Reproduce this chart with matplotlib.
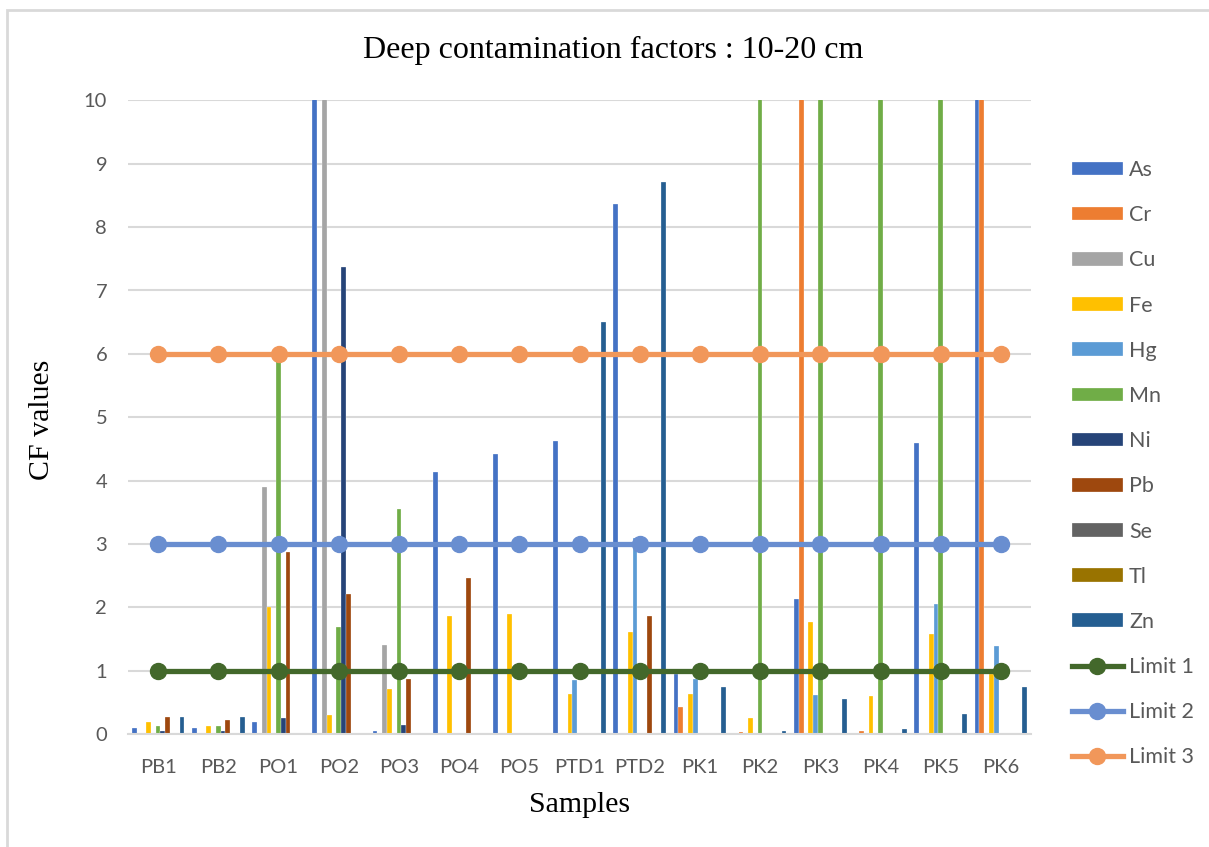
import numpy as np
import matplotlib
matplotlib.use("Agg")
import matplotlib.pyplot as plt
from matplotlib.patches import Rectangle

samples = ["PB1", "PB2", "PO1", "PO2", "PO3", "PO4", "PO5", "PTD1", "PTD2",
           "PK1", "PK2", "PK3", "PK4", "PK5", "PK6"]

# CF values (bars above 10 are cut by the axis)
As = [0.10, 0.10, 0.19, 12, 0.05, 4.13, 4.42, 4.63, 8.37, 0.95, 0, 2.13, 0, 4.59, 12]
Cr = [0, 0, 0, 0, 0, 0, 0, 0, 0, 0.43, 0.03, 12, 0.05, 0, 12]
Cu = [0.02, 0.02, 3.90, 12, 1.41, 0, 0, 0, 0, 0, 0, 0, 0, 0, 0]
Fe = [0.19, 0.13, 2.00, 0.30, 0.71, 1.87, 1.89, 0.64, 1.62, 0.64, 0.25, 1.77, 0.61, 1.58, 0.95]
Hg = [0, 0, 0, 0, 0, 0, 0, 0.86, 3.09, 0.88, 0.02, 0.62, 0, 2.05, 1.40]
Mn = [0.13, 0.13, 6.00, 1.70, 3.56, 0, 0, 0.02, 0, 0, 12, 12, 12, 12, 0]
Ni = [0.05, 0.05, 0.25, 7.37, 0.14, 0, 0, 0, 0, 0, 0, 0, 0, 0, 0]
Pb = [0.27, 0.23, 2.87, 2.21, 0.87, 2.46, 0, 0, 1.87, 0, 0, 0, 0, 0, 0]
Se = [0] * 15
Tl = [0] * 15
Zn = [0.27, 0.27, 0, 0, 0, 0, 0, 6.51, 8.71, 0.74, 0.05, 0.55, 0.08, 0.32, 0.75]

limit1 = [1] * 15
limit2 = [3] * 15
limit3 = [6] * 15

elements = ["As", "Cr", "Cu", "Fe", "Hg", "Mn", "Ni", "Pb", "Se", "Tl", "Zn"]
series = [As, Cr, Cu, Fe, Hg, Mn, Ni, Pb, Se, Tl, Zn]
colors = ["#4472C4", "#ED7D31", "#A5A5A5", "#FFC000", "#5B9BD5", "#70AD47",
          "#264478", "#9E480E", "#636363", "#997300", "#255E91"]

sans = ["Lato", "DejaVu Sans"]
serif = ["Liberation Serif", "DejaVu Serif"]
tick_col = "#595959"
grid_col = "#D9D9D9"

fig = plt.figure(figsize=(12.09, 8.47), dpi=100)
ax = fig.add_axes([128 / 1209, 1 - 734.3 / 847, (1031 - 128) / 1209, (734.3 - 100.3) / 847])

x = np.arange(len(samples))
slot = 0.0794
handles = []
for k, (name, vals, c) in enumerate(zip(elements, series, colors)):
    b = ax.bar(x + (k - 5) * slot, vals, width=slot, color=c, edgecolor="white",
               linewidth=0.2, label=name, zorder=2)
    handles.append(b)

for vals, c, name in [(limit1, "#43682B", "Limit 1"), (limit2, "#698ED0", "Limit 2"),
                      (limit3, "#F1975A", "Limit 3")]:
    ln, = ax.plot(x, vals, color=c, lw=3.8, marker="o", ms=11.5, label=name, zorder=4)
    handles.append(ln)

ax.set_xlim(-0.5, len(samples) - 0.5)
ax.set_ylim(0, 10)
ax.set_yticks(range(0, 11))
ax.set_xticks(x)
ax.set_xticklabels(samples)
ax.yaxis.grid(True, color=grid_col, lw=1.5, zorder=0)
ax.set_axisbelow(True)
for s in ["top", "right", "left"]:
    ax.spines[s].set_visible(False)
ax.spines["bottom"].set_color(grid_col)
ax.spines["bottom"].set_linewidth(1.5)
ax.tick_params(length=0, labelsize=14.5, labelcolor=tick_col)
ax.tick_params(axis="y", pad=15)
ax.tick_params(axis="x", pad=18)
for t in ax.get_xticklabels() + ax.get_yticklabels():
    t.set_family(sans)

fig.text(0.507, 1 - 50 / 847, "Deep contamination factors : 10-20 cm", ha="center",
         va="center", fontsize=23, family=serif)
fig.text(42 / 1209, 1 - 420 / 847, "CF values", rotation=90, ha="center", va="center",
         fontsize=21.5, family=serif)
fig.text(580 / 1209, 1 - 805 / 847, "Samples", ha="center", va="center",
         fontsize=21.5, family=serif)

leg = fig.legend(handles=handles, loc="upper left",
                 bbox_to_anchor=(1072 / 1209, 1 - 160 / 847),
                 frameon=False, borderpad=0, borderaxespad=0, handlelength=2.35,
                 handleheight=0.6, handletextpad=0.3, labelspacing=1.17,
                 prop={"family": sans, "size": 15.5})
for t in leg.get_texts():
    t.set_color(tick_col)

fig.patches.append(Rectangle((7 / 1209, -0.05), 1.2, 1 - 10 / 847 + 0.05,
                             transform=fig.transFigure, fill=False,
                             edgecolor=grid_col, lw=2))

fig.savefig("out.png", dpi=100)
